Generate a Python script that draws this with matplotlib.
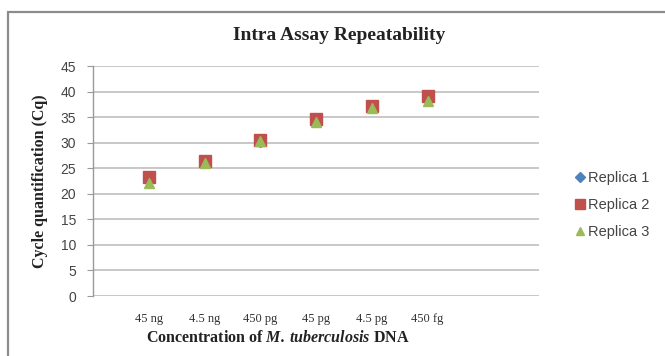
import matplotlib
matplotlib.use("Agg")
import matplotlib.pyplot as plt
from matplotlib.patches import Rectangle

plt.rcParams["mathtext.fontset"] = "custom"
plt.rcParams["mathtext.bfit"] = "Liberation Serif:italic:bold"
plt.rcParams["mathtext.it"] = "Liberation Serif:italic"
plt.rcParams["mathtext.rm"] = "Liberation Serif"
plt.rcParams["mathtext.bf"] = "Liberation Serif:bold"

categories = ["45 ng", "4.5 ng", "450 pg", "45 pg", "4.5 pg", "450 fg"]
replica1 = [22.6, 26.2, 30.4, 34.3, 36.9, 38.6]
replica2 = [23.2, 26.4, 30.6, 34.6, 37.1, 39.2]
replica3 = [22.2, 26.1, 30.3, 34.1, 36.8, 38.2]
yticks = [0, 5, 10, 15, 20, 25, 30, 35, 40, 45]

W, H = 665, 356
fig = plt.figure(figsize=(W / 100, H / 100), dpi=100)
fig.patch.set_facecolor("white")

# chart border
fig.patches.append(Rectangle((8 / W, -0.05), 1.2, 1 - 12 / H + 0.05,
                             transform=fig.transFigure, fill=False,
                             edgecolor="#8c8c8c", linewidth=1.6))

ax = fig.add_axes([93 / W, 1 - 296 / H, (539 - 93) / W, (296 - 66) / H])
x = list(range(1, len(categories) + 1))
ms = 8.5
ax.plot(x, replica1, linestyle="none", marker="D", color="#4F81BD", markersize=ms - 2.5, label="Replica 1", zorder=3)
ax.plot(x, replica2, linestyle="none", marker="s", color="#C0504D", markersize=ms, label="Replica 2", zorder=4)
ax.plot(x, replica3, linestyle="none", marker="^", color="#9BBB59", markersize=ms - 1, label="Replica 3", zorder=5)

ax.set_xlim(0, 8)
ax.set_ylim(0, 45)
ax.set_yticks(yticks)
ax.set_xticks(x)
ax.set_xticklabels(categories, fontsize=9, family="Liberation Serif", color="#333333")
ax.tick_params(axis="x", length=0, pad=12)
ax.tick_params(axis="y", length=4, color="#999999", labelsize=10, labelcolor="#444444", pad=8)
for lbl in ax.get_yticklabels():
    lbl.set_family("Liberation Sans")

ax.grid(axis="y", color="#c8c8c8", linewidth=1.4)
ax.set_axisbelow(True)
for s in ["top", "right", "bottom"]:
    ax.spines[s].set_visible(False)
ax.spines["left"].set_color("#999999")
ax.spines["left"].set_linewidth(1.0)

fig.text(339 / W, 1 - 36 / H, "Intra Assay Repeatability", ha="center", va="center",
         fontsize=14, fontweight="bold", family="Liberation Serif", color="#222222")
fig.text(278 / W, 1 - 338 / H, "Concentration of $\\mathbfit{M.\\:tuberculosis}$ DNA",
         ha="center", va="center", fontsize=11.5, fontweight="bold", family="Liberation Serif", color="#222222")
fig.text(40 / W, 1 - 181 / H, "Cycle quantification (Cq)", ha="center", va="center",
         rotation=90, fontsize=11.5, fontweight="bold", family="Liberation Serif", color="#222222")

leg = fig.legend(handles=ax.get_lines(), loc="center left", bbox_to_anchor=(562 / W, 1 - 205 / H),
                 frameon=False, fontsize=10.5, handlelength=0.6, handletextpad=0.3,
                 labelspacing=0.9, markerscale=0.85)
for t in leg.get_texts():
    t.set_color("#444444")
    t.set_family("Liberation Sans")

fig.savefig("out.png", dpi=100)
